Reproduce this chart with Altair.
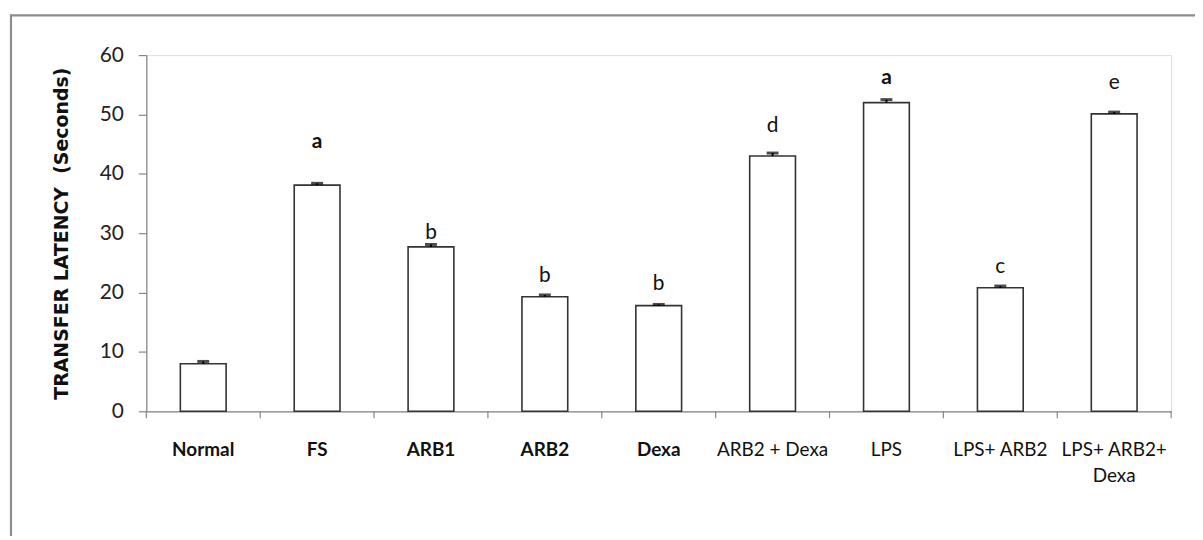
import json
import altair as alt
import pandas as pd

# ---- data ----
groups = ["Normal", "FS", "ARB1", "ARB2", "Dexa", "ARB2 + Dexa", "LPS", "LPS+ ARB2", "LPS+ ARB2+ Dexa"]
means = [8.0, 38.1, 27.7, 19.3, 17.8, 43.0, 52.0, 20.8, 50.1]
errors = [0.4, 0.3, 0.4, 0.3, 0.2, 0.5, 0.5, 0.3, 0.3]
letters = ["", "a", "b", "b", "b", "d", "a", "c", "e"]
letter_bold = [False, True, False, False, False, False, True, False, False]
letter_level = [0.0, 44.3, 29.0, 21.7, 20.5, 47.0, 55.1, 23.3, 54.3]
bold_labels = ["Normal", "FS", "ARB1", "ARB2", "Dexa"]
wrapped = {"LPS+ ARB2+ Dexa": ["LPS+ ARB2+", "Dexa"]}
y_ticks = [0, 10, 20, 30, 40, 50, 60]
y_title = "TRANSFER LATENCY\u00a0\u00a0(Seconds)"

df = pd.DataFrame({
    "group": groups,
    "mean": means,
    "err": errors,
    "letter": letters,
    "bold": letter_bold,
    "lpos": letter_level,
})
df["top"] = df["mean"] + df["err"]

W, H = 1030, 358
FONT = "Lato"
GRAY = "#868686"

label_expr = " : ".join(
    [f"datum.value == {json.dumps(k)} ? {json.dumps(v)}" for k, v in wrapped.items()]
    + ["datum.label"]
)
bold_test = f"indexof({json.dumps(bold_labels)}, datum.value) >= 0"

xscale = alt.Scale(domain=groups, paddingInner=0, paddingOuter=0)
yscale = alt.Scale(domain=[0, 60], nice=False)

x_axis = alt.Axis(
    title=None, ticks=False, tickSize=0, labelPadding=29, labelAngle=0,
    labelFont=FONT, labelFontSize=19, labelColor="#111",
    labelFontWeight={"condition": {"test": bold_test, "value": "bold"}, "value": "normal"},
    labelExpr=label_expr, labelLineHeight=27, labelBaseline="top",
    domainColor=GRAY, domainWidth=1.2,
)
y_axis = alt.Axis(
    values=y_ticks, grid=False, tickSize=8, tickColor=GRAY, tickWidth=1.2,
    domainColor=GRAY, domainWidth=1.2, labelPadding=15,
    labelFont=FONT, labelFontSize=21, labelColor="#222",
    title=y_title, titleFont="DejaVu Sans", titleFontSize=19, titleFontWeight="bold",
    titleColor="#111", titleAngle=-90, titleX=-85, titleY=H / 2,
    titleAlign="center", titleBaseline="middle",
)

base = alt.Chart(df)

border = alt.Chart(alt.Data(values=[{"k": 1}])).mark_rect(
    fillOpacity=0, stroke="#8c8c8c", strokeWidth=2.2
).encode(
    x=alt.value(-136), x2=alt.value(W + 200),
    y=alt.value(-40), y2=alt.value(H + 300),
)

bars = base.mark_bar(fill="white", stroke="#333333", strokeWidth=1.6, size=46).encode(
    x=alt.X("group:N", sort=groups, scale=xscale, axis=x_axis),
    y=alt.Y("mean:Q", scale=yscale, axis=y_axis),
)

stems = base.mark_rule(color="black", strokeWidth=2).encode(
    x=alt.X("group:N", sort=groups),
    y="mean:Q", y2="top:Q",
)
caps = base.mark_tick(color="black", size=12, thickness=3).encode(
    x=alt.X("group:N", sort=groups),
    y="top:Q",
)

xticks = base.mark_rule(color=GRAY, strokeWidth=1.2).encode(
    x=alt.X("group:N", sort=groups, bandPosition=0),
    y=alt.value(H), y2=alt.value(H + 7),
)
last_tick = base.transform_filter(
    alt.datum.group == groups[-1]
).mark_rule(color=GRAY, strokeWidth=1.2).encode(
    x=alt.X("group:N", sort=groups, bandPosition=1),
    y=alt.value(H), y2=alt.value(H + 7),
)

text_norm = base.transform_filter("!datum.bold && datum.letter != ''").mark_text(
    font=FONT, fontSize=21, color="#111", baseline="alphabetic", align="center"
).encode(
    x=alt.X("group:N", sort=groups), y="lpos:Q", text="letter:N"
)
text_bold = base.transform_filter("datum.bold").mark_text(
    font=FONT, fontSize=21, fontWeight="bold", color="#111", baseline="alphabetic", align="center"
).encode(
    x=alt.X("group:N", sort=groups), y="lpos:Q", text="letter:N"
)

chart = alt.layer(
    border, bars, stems, caps, xticks, last_tick, text_norm, text_bold
).properties(
    width=W, height=H,
    padding={"left": 139, "top": 46, "right": 24, "bottom": 124},
    autosize=alt.AutoSizeParams(type="none"),
).configure_view(stroke=None).configure(background="white")

chart.save("out.html", embed_options={"renderer": "svg", "actions": False})
